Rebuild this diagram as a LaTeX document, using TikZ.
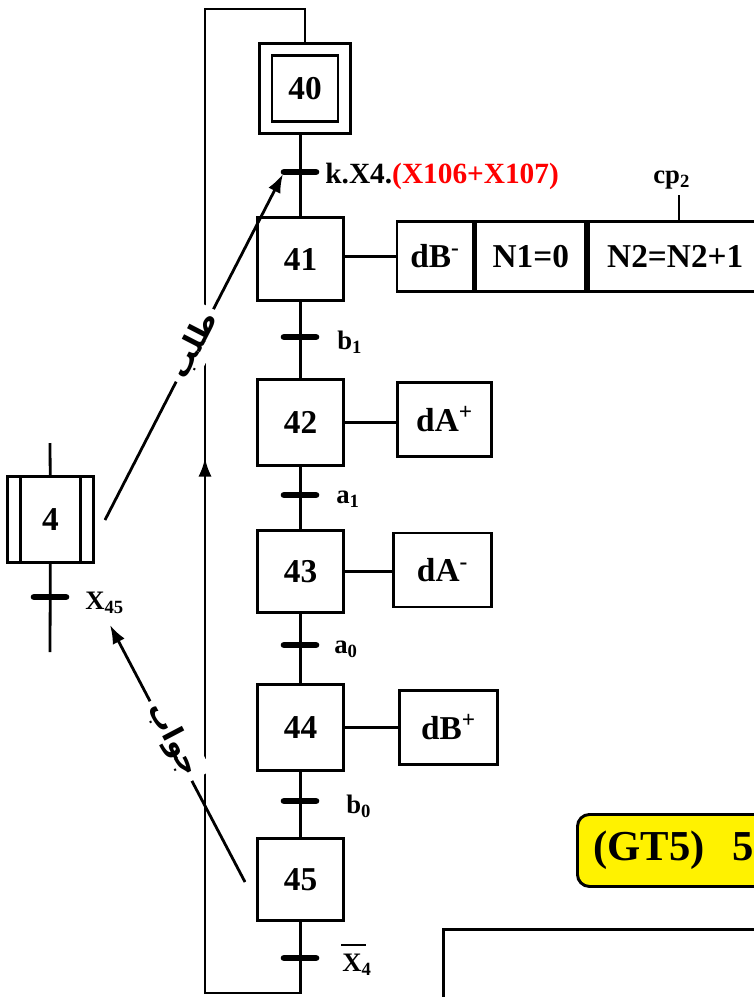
\documentclass[tikz,border=0pt]{standalone}
\usepackage{fontspec}
\setmainfont{Liberation Serif}
\newfontfamily\arabicfont[Script=Arabic]{DejaVu Sans}
\TeXXeTstate=1
\usetikzlibrary{arrows.meta}
\newcommand{\ix}[1]{\textsubscript{#1}}
\newcommand{\barX}{\makebox[0pt][l]{\hspace{-1pt}\rule[19pt]{19pt}{1.3pt}}X}

\begin{document}
\begin{tikzpicture}[x=0.75pt, y=-0.75pt, line width=2.1pt,
  st/.style={draw, inner sep=0pt, minimum width=64pt, minimum height=62pt, font=\bfseries\fontsize{25}{25}\selectfont},
  ac/.style={draw, inner sep=0pt, minimum height=53pt, font=\bfseries\fontsize{25}{25}\selectfont},
  tr/.style={line width=5pt, line cap=round},
  lb/.style={anchor=west, inner sep=0pt, font=\bfseries\fontsize{20}{20}\selectfont},
  ar/.style={-{Latex[length=14pt, width=10pt]}},
  msg/.style={fill=white, inner sep=4pt, font=\arabicfont\bfseries\fontsize{22}{22}\selectfont}]
 \useasboundingbox (0,0) rectangle (754,997);
 \clip (0,0) rectangle (754,997);
 % steps of the grafcet
 \node[st, minimum width=68pt, minimum height=67.5pt] (s40o) at (305,88.5) {};
 \node[st, minimum width=49.5pt, minimum height=49pt] (s40) at (305,88.5) {40};
 \node[st] (s41) at (300.5,259) {41};
 \node[st, minimum height=64pt] (s42) at (300.5,422.5) {42};
 \node[st] (s43) at (300.5,571.5) {43};
 \node[st, minimum height=64pt] (s44) at (300.5,727.5) {44};
 \node[st] (s45) at (300.5,879.5) {45};
 \draw (s40o.south -| s41.north) -- (s41.north);
 \draw (s41) -- (s42); \draw (s42) -- (s43); \draw (s43) -- (s44); \draw (s44) -- (s45);
 % loop back to 40
 \coordinate (lpb) at (205,993);
 \coordinate (lpt) at (205,9);
 \coordinate (lpa) at (205,458);
 \draw (s45) |- (lpb) -- (lpt) -| (s40o);
 \draw[ar] (lpb) -- (lpa);
 % transitions
 \coordinate (t40) at (300,172);
 \coordinate (t41) at (300,337);
 \coordinate (t42) at (300,495);
 \coordinate (t43) at (300,645);
 \coordinate (t44) at (300,801);
 \coordinate (t45) at (300,958);
 \node[lb, font=\bfseries\fontsize{22}{22}\selectfont] (c40) at (324,176) {k.X4.\textcolor{red}{(X106+X107)}};
 \node[lb] (c41) at (336,342) {b\ix{1}};
 \node[lb] (c42) at (335,499) {a\ix{1}};
 \node[lb] (c43) at (333,649) {a\ix{0}};
 \node[lb] (c44) at (345,806) {b\ix{0}};
 \node[lb] (c45) at (341,960) {\barX\ix{4}};
 % actions
 \node[ac, minimum width=57pt] (a41) at (435,256.5) {dB\textsuperscript{-}};
 \node[ac, minimum width=82.5pt, anchor=west] (a41n) at (a41.east) {N1=0};
 \node[ac, minimum width=130pt, anchor=west] (a41m) at (a41n.east) {N2=N2+1};
 \node[lb] (cp) at (652,180) {cp\ix{2}};
 \coordinate (cpl) at (679,195);
 \draw (cpl) -- (cpl |- a41m.north);
 \node[ac, minimum width=71pt, minimum height=56pt] (a42) at (444.5,419.5) {dA\textsuperscript{+}};
 \node[ac, minimum width=74pt, minimum height=55.5pt] (a43) at (442.5,570) {dA\textsuperscript{-}};
 \node[ac, minimum width=73pt, minimum height=56pt] (a44) at (448.5,727.5) {dB\textsuperscript{+}};
 \draw (a41.west -| s41.east) -- (a41.west);
 \draw (s42.east) -- (s42.east -| a42.west);
 \draw (s43.east) -- (s43.east -| a43.west);
 \draw (s44.east) -- (s44.east -| a44.west);
 % step 4 of the other grafcet
 \node[st, minimum height=64pt] (s4) at (50.5,519.5) {4};
 \draw ([xshift=10.5pt]s4.north west) -- ([xshift=10.5pt]s4.south west);
 \draw ([xshift=-10.5pt]s4.north east) -- ([xshift=-10.5pt]s4.south east);
 \coordinate (u4) at (50,443);
 \coordinate (d4) at (50,652);
 \coordinate (t4) at (50,597);
 \draw (u4) -- (s4); \draw (s4) -- (d4);
 \node[lb] (c4) at (84,603) {X\ix{45}};
 \foreach \t in {t40,t41,t42,t43,t44,t45,t4}
   \draw[tr] ([xshift=-12pt]\t) -- ([xshift=12pt]\t);
 % request and answer
 \coordinate (r1) at (105,520);
 \coordinate (r2) at (283,174);
 \coordinate (q1) at (245,882);
 \coordinate (q2) at (110,625);
 \draw[ar] (r1) -- (r2);
 \draw[ar] (q1) -- (q2);
 \node[msg, rotate=62.8] (m1) at (194,345) {\beginR طلب\endR};
 \node[msg, rotate=-62.3] (m2) at (173,740) {\beginR جواب\endR};
 % title and frame
 \node[draw, fill=yellow, rounded corners=9pt, line width=2.2pt, anchor=north west,
   minimum width=190pt, minimum height=54pt] (gt) at (576,813) {};
 \node[anchor=west, inner sep=0pt, font=\bfseries\fontsize{32}{32}\selectfont] (gtt) at (592,850) {(GT5)\hspace{21pt}5};
 \node[draw, anchor=north west, minimum width=300pt, minimum height=100pt] (fr) at (442,928) {};
\end{tikzpicture}
\end{document}
